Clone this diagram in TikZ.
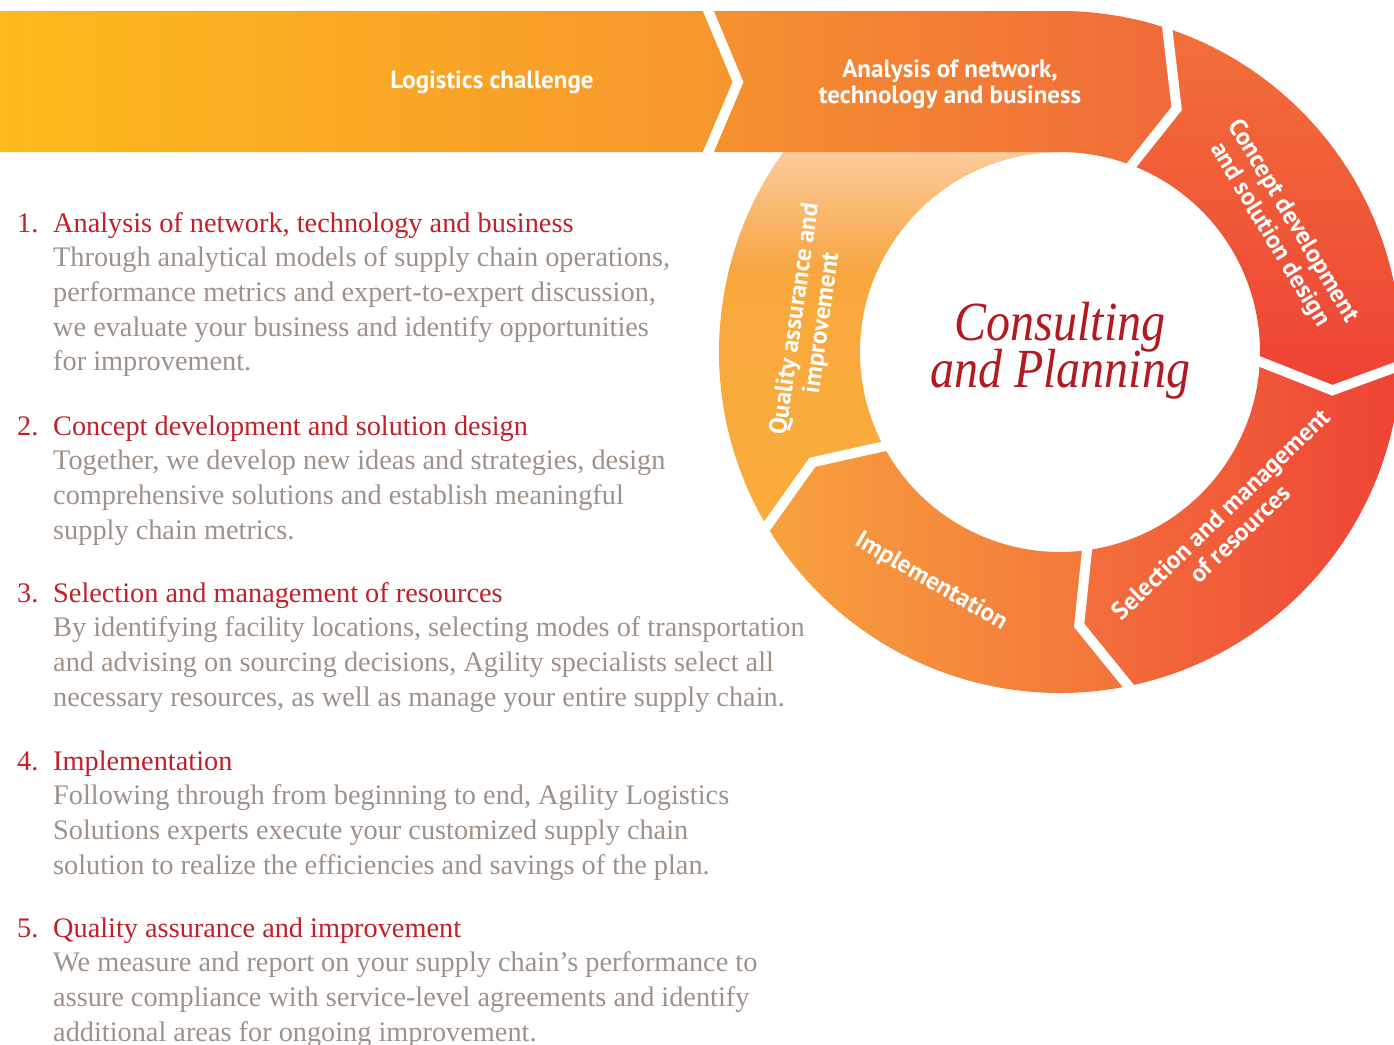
\documentclass[tikz,border=0pt]{standalone}
\usepackage{fontspec}
\setmainfont{Liberation Serif}
\newfontfamily\labfont{PT Sans}
\usetikzlibrary{calc}
\definecolor{logL}{RGB}{253,186,28}
\definecolor{logR}{RGB}{246,150,45}
\definecolor{anaL}{RGB}{245,146,47}
\definecolor{anaR}{RGB}{240,106,58}
\definecolor{conT}{RGB}{242,112,58}
\definecolor{conB}{RGB}{238,66,54}
\definecolor{selL}{RGB}{243,112,60}
\definecolor{selR}{RGB}{238,68,54}
\definecolor{impL}{RGB}{248,162,62}
\definecolor{impR}{RGB}{242,114,58}
\definecolor{quaT}{RGB}{250,204,156}
\definecolor{quaM}{RGB}{247,164,64}
\definecolor{quaB}{RGB}{250,172,60}
\definecolor{headred}{RGB}{192,32,42}
\definecolor{bodygray}{RGB}{158,145,137}
\definecolor{centred}{RGB}{176,26,32}
\tikzset{
  gapline/.style={draw=white, line width=10pt, line join=miter},
  ringlab/.style={text=white, font=\labfont\bfseries\fontsize{25}{27}\selectfont, align=center, inner sep=0pt},
  bandlab/.style={text=white, font=\labfont\bfseries\fontsize{25}{27}\selectfont, inner sep=0pt, anchor=base},
  numtxt/.style={anchor=base west, inner sep=0pt, text=headred, font=\fontsize{28.3}{34}\selectfont},
  headtxt/.style={anchor=base west, inner sep=0pt, text=headred, font=\fontsize{28.3}{34}\selectfont},
  bodytxt/.style={anchor=base west, inner sep=0pt, text=bodygray, font=\fontsize{28.3}{34}\selectfont},
  centtxt/.style={anchor=base, inner sep=0pt, text=centred, font=\itshape\fontsize{48}{50}\selectfont}
}
\newcommand{\myitem}[4]{%
  \node[numtxt] (n#1) at (17,-#2) {#1.};
  \node[headtxt] (h#1) at (53,-#2) {#3};
  \foreach \ln [count=\k] in {#4} {
    \node[bodytxt] (b#1-\k) at (53,{-#2-34.7*\k}) {\ln};
  }
}
\begin{document}
\begin{tikzpicture}[x=1pt,y=1pt]
\useasboundingbox (0,0) rectangle (1394,-1044);
\clip (0,0) rectangle (1394,-1044);
\coordinate (C) at (1060,-352);
% chevron points
\coordinate (c2o) at ($(C)+(72.5:341)$);
\coordinate (c2t) at ($(C)+(64.4:270)$);
\coordinate (c2i) at ($(C)+(70:200)$);
\coordinate (c3o) at ($(C)+(-1.5:341)$);
\coordinate (c3t) at ($(C)+(-8:275)$);
\coordinate (c3i) at ($(C)+(-1.7:200)$);
\coordinate (c4o) at ($(C)+(-77.5:341)$);
\coordinate (c4t) at ($(C)+(-86:274)$);
\coordinate (c4i) at ($(C)+(-81.5:200)$);
\coordinate (c5o) at ($(C)+(-148.5:341)$);
\coordinate (c5t) at ($(C)+(-156:271)$);
\coordinate (c5i) at ($(C)+(-151:200)$);
% Quality
\shade[top color=quaM, bottom color=quaB]
  (c5o) arc[start angle=-148.5, end angle=-270, radius=341] -- ($(C)+(90:200)$)
  arc[start angle=90, end angle=209, radius=200] -- (c5t) -- cycle;
\begin{scope}
  \clip (c5o) arc[start angle=-148.5, end angle=-270, radius=341] -- ($(C)+(90:200)$)
  arc[start angle=90, end angle=209, radius=200] -- (c5t) -- cycle;
  \shade[top color=quaT, bottom color=quaM] (700,-150) rectangle (1070,-272);
\end{scope}
% Implementation
\shade[left color=impL, right color=impR]
  (c4o) arc[start angle=-77.5, end angle=-148.5, radius=341] -- (c5t) -- (c5i)
  arc[start angle=-151, end angle=-81.5, radius=200] -- (c4t) -- cycle;
% Selection
\shade[left color=selL, right color=selR]
  (c3o) arc[start angle=-1.5, end angle=-77.5, radius=341] -- (c4t) -- (c4i)
  arc[start angle=-81.5, end angle=-1.7, radius=200] -- (c3t) -- cycle;
% Concept
\shade[top color=conT, bottom color=conB]
  (c2o) arc[start angle=72.5, end angle=-1.5, radius=341] -- (c3t) -- (c3i)
  arc[start angle=-1.7, end angle=70, radius=200] -- (c2t) -- cycle;
% Logistics challenge
\shade[left color=logL, right color=logR]
  (0,-11) -- (708,-11) -- (738,-82) -- (708,-152) -- (0,-152) -- cycle;
% Analysis
\shade[left color=anaL, right color=anaR]
  (708,-11) -- (1060,-11) arc[start angle=90, end angle=72.5, radius=341] -- (c2t) -- (c2i)
  arc[start angle=70, end angle=90, radius=200] -- (708,-152) -- (738,-82) -- cycle;
% white gaps
\draw[gapline] (705,-3) -- (738,-82) -- (705,-160);
\draw[gapline] ($(C)+(72.5:352)$) -- (c2t) -- ($(C)+(70:190)$);
\draw[gapline] ($(C)+(-1.5:352)$) -- (c3t) -- ($(C)+(-1.7:190)$);
\draw[gapline] ($(C)+(-77.5:352)$) -- (c4t) -- ($(C)+(-81.5:190)$);
\draw[gapline] ($(C)+(-148.5:352)$) -- (c5t) -- ($(C)+(-151:190)$);
% band labels
\node[bandlab] (tlog) at (492,-88) {Logistics challenge};
\node[bandlab] (tana1) at (950,-77) {Analysis of network,};
\node[bandlab] (tana2) at (950,-103) {technology and business};
% ring labels
\node[ringlab, rotate=-59] (tcon) at (1281,-228) {Concept development\\and solution design};
\node[ringlab, rotate=44] (tsel) at (1230,-524) {Selection and management\\of resources};
\node[ringlab, rotate=-30] (timp) at (931,-582) {Implementation};
\node[ringlab, rotate=82] (tqua) at (809,-321) {Quality assurance and\\improvement};
% centre
\node[centtxt] (cc1) at (1060,-340) {\scalebox{1}[1.15]{Consulting}};
\node[centtxt] (cc2) at (1060,-387) {\scalebox{1}[1.15]{and Planning}};
% list
\myitem{1}{232}{Analysis of network, technology and business}{{Through analytical models of supply chain operations,},{performance metrics and expert-to-expert discussion,},{we evaluate your business and identify opportunities},{for improvement.}}
\myitem{2}{435}{Concept development and solution design}{{Together, we develop new ideas and strategies, design},{comprehensive solutions and establish meaningful},{supply chain metrics.}}
\myitem{3}{602}{Selection and management of resources}{{By identifying facility locations, selecting modes of transportation},{and advising on sourcing decisions, Agility specialists select all},{necessary resources, as well as manage your entire supply chain.}}
\myitem{4}{770}{Implementation}{{Following through from beginning to end, Agility Logistics},{Solutions experts execute your customized supply chain},{solution to realize the efficiencies and savings of the plan.}}
\myitem{5}{937}{Quality assurance and improvement}{{We measure and report on your supply chain’s performance to},{assure compliance with service-level agreements and identify},{additional areas for ongoing improvement.}}
\end{tikzpicture}
\end{document}
